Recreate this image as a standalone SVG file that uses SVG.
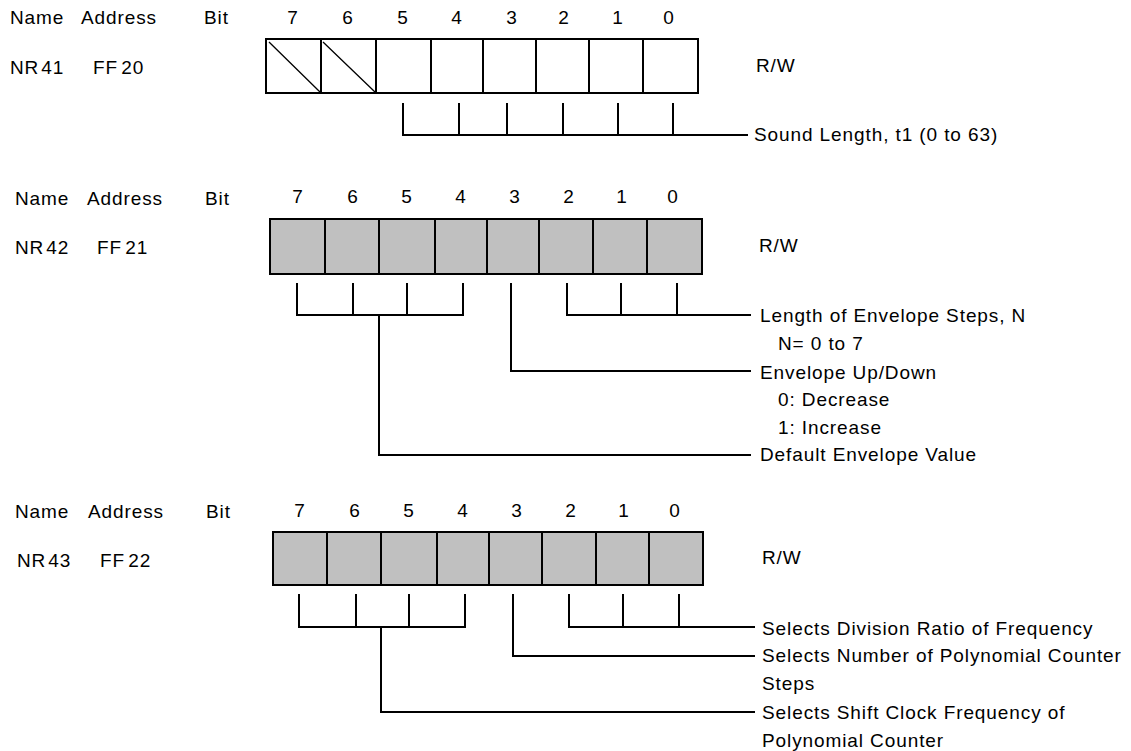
<svg xmlns="http://www.w3.org/2000/svg" width="1131" height="751" viewBox="0 0 1131 751">
<style>
.t{font-family:"Liberation Sans",Arial,sans-serif;font-size:19px;letter-spacing:0.9px;fill:#000}
.d{text-anchor:middle}
.box{stroke:#000;stroke-width:2}
.w{fill:#fff}
.g{fill:#c0c0c0}
.div{stroke:#000;stroke-width:2}
.diag{stroke:#000;stroke-width:1.3}
.conn{stroke:#000;stroke-width:2;fill:none}
</style>
<rect width="1131" height="751" fill="#fff"/>

<g id="nr41">
<text class="t" x="10" y="24">Name</text>
<text class="t" x="81" y="24">Address</text>
<text class="t" x="204" y="24">Bit</text>
<g class="t d">
<text x="293" y="24">7</text><text x="348" y="24">6</text><text x="403" y="24">5</text><text x="457" y="24">4</text>
<text x="512" y="24">3</text><text x="564" y="24">2</text><text x="618" y="24">1</text><text x="669" y="24">0</text>
</g>
<text class="t" x="10" y="74">NR<tspan dx="2">41</tspan></text>
<text class="t" x="93" y="74" word-spacing="-3">FF 20</text>
<rect class="box w" x="266" y="39" width="432" height="54"/>
<path class="div" d="M321,39V93M376,39V93M431,39V93M483,39V93M536,39V93M589,39V93M643,39V93"/>
<path class="diag" d="M269,42L320,92M323,42L375,92"/>
<text class="t" x="756" y="72">R/W</text>
<text class="t" x="754" y="141">Sound Length, t1 (0 to 63)</text>
</g>

<g id="nr42">
<text class="t" x="15" y="205">Name</text>
<text class="t" x="87" y="205">Address</text>
<text class="t" x="205" y="205">Bit</text>
<g class="t d">
<text x="298" y="203">7</text><text x="353" y="203">6</text><text x="407" y="203">5</text><text x="461" y="203">4</text>
<text x="515" y="203">3</text><text x="569" y="203">2</text><text x="622" y="203">1</text><text x="673" y="203">0</text>
</g>
<text class="t" x="15" y="254">NR<tspan dx="2">42</tspan></text>
<text class="t" x="97" y="254" word-spacing="-3">FF 21</text>
<rect class="box g" x="270" y="219" width="432" height="55"/>
<path class="div" d="M325,219V274M379,219V274M435,219V274M487,219V274M539,219V274M593,219V274M647,219V274"/>
<text class="t" x="759" y="252">R/W</text>
<text class="t" x="760" y="322">Length of Envelope Steps, N</text>
<text class="t" x="778" y="350">N= 0 to 7</text>
<text class="t" x="760" y="379">Envelope Up/Down</text>
<text class="t" x="778" y="406">0: Decrease</text>
<text class="t" x="778" y="434">1: Increase</text>
<text class="t" x="760" y="461">Default Envelope Value</text>
</g>

<g id="nr43">
<text class="t" x="15" y="518">Name</text>
<text class="t" x="88" y="518">Address</text>
<text class="t" x="206" y="518">Bit</text>
<g class="t d">
<text x="300" y="517">7</text><text x="355" y="517">6</text><text x="409" y="517">5</text><text x="463" y="517">4</text>
<text x="517" y="517">3</text><text x="571" y="517">2</text><text x="624" y="517">1</text><text x="675" y="517">0</text>
</g>
<text class="t" x="17" y="567">NR<tspan dx="2">43</tspan></text>
<text class="t" x="100" y="567" word-spacing="-3">FF 22</text>
<rect class="box g" x="273" y="532" width="430" height="53"/>
<path class="div" d="M327,532V585M381,532V585M437,532V585M489,532V585M542,532V585M596,532V585M649,532V585"/>
<text class="t" x="762" y="564">R/W</text>
<text class="t" x="762" y="635">Selects Division Ratio of Frequency</text>
<text class="t" x="762" y="662">Selects Number of Polynomial Counter</text>
<text class="t" x="762" y="690">Steps</text>
<text class="t" x="762" y="719">Selects Shift Clock Frequency of</text>
<text class="t" x="762" y="747">Polynomial Counter</text>
</g>

<g id="connectors">
<path class="conn" d="M403,103V135H748M459,103V135M507,103V135M563,103V135M618,103V135M673,103V135"/>
<path class="conn" d="M297,283V315H463V283M353,283V315M407,283V315M379,315V455H751"/>
<path class="conn" d="M511,283V371H751"/>
<path class="conn" d="M567,283V315H751M621,283V315M677,283V315"/>
<path class="conn" d="M299,594V627H465V594M356,594V627M409,594V627M381,627V712H755"/>
<path class="conn" d="M513,594V656H755"/>
<path class="conn" d="M569,594V627H755M623,594V627M679,594V627"/>
</g>
</svg>
